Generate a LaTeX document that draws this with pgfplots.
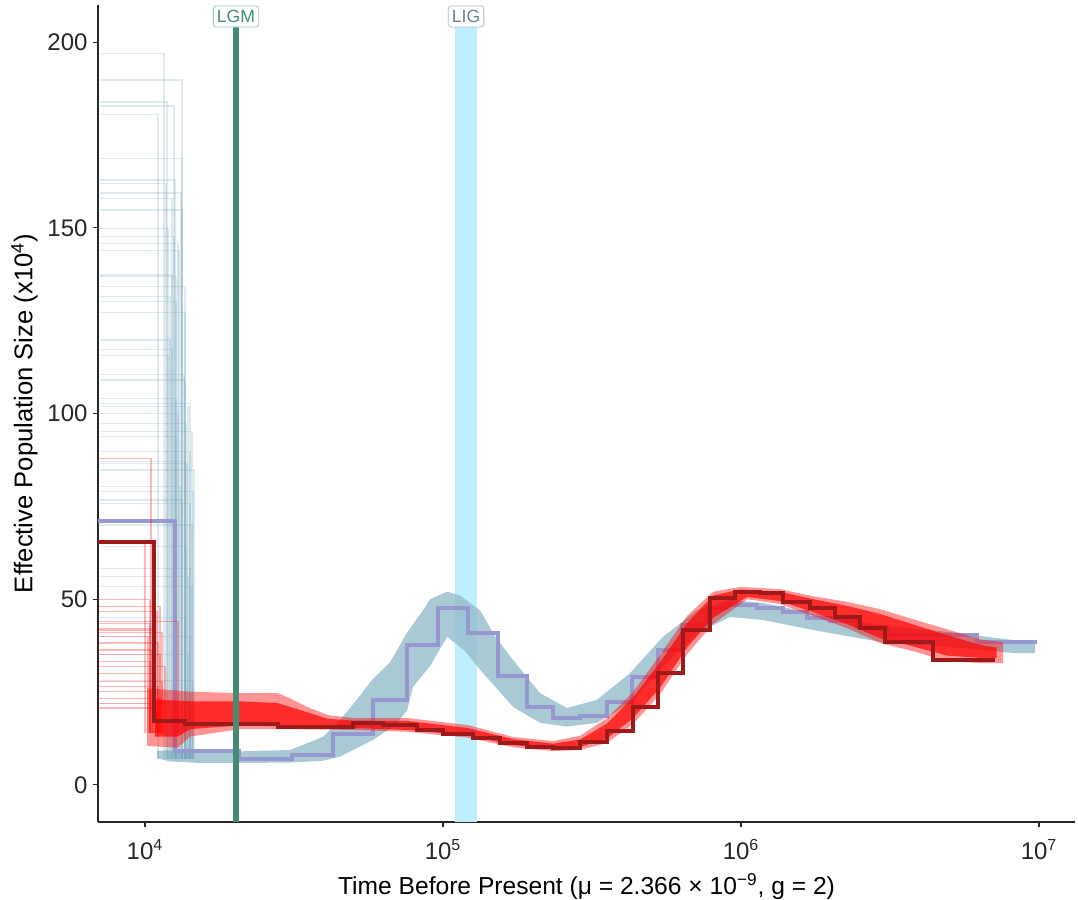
\documentclass[border=0pt]{standalone}
\usepackage{fontspec}
\setmainfont{Liberation Sans}
\usepackage{pgfplots}
\pgfplotsset{compat=1.18}
\usetikzlibrary{calc}
\definecolor{bootblue}{RGB}{110,160,182}
\definecolor{bandblue}{RGB}{150,190,203}
\definecolor{lav}{RGB}{152,152,208}
\definecolor{mainred}{RGB}{158,26,26}
\definecolor{lgmcol}{RGB}{69,139,116}
\definecolor{lgmbord}{RGB}{160,200,185}
\definecolor{ligcol}{RGB}{191,239,255}
\definecolor{ligtext}{RGB}{105,130,145}
\definecolor{ligbord}{RGB}{175,190,198}
\newcommand{\bl}[2]{\addplot[bootblue, opacity=0.22, line width=0.6pt] coordinates {(6955,#1) (#2,#1) (#2,7)};}
\newcommand{\rl}[2]{\addplot[red, opacity=0.28, line width=0.6pt] coordinates {(6955,#1) (#2,#1) (#2,14)};}
\begin{document}
\begin{tikzpicture}
\begin{axis}[
  name=ax, scale only axis, width=488.5pt, height=408.5pt,
  xmode=log, xmin=6955, xmax=1.32e7, ymin=-10, ymax=210,
  axis x line*=bottom, axis y line*=left, axis line style={-, line width=0.7pt, black!85},
  clip=false,
  xtick={1e4,1e5,1e6,1e7},
  xticklabels={10\textsuperscript{4},10\textsuperscript{5},10\textsuperscript{6},10\textsuperscript{7}},
  xminorticks=false,
  ytick={0,50,100,150,200},
  tick align=outside, major tick length=2.75pt,
  tick style={black!85, line width=0.6pt},
  /pgf/number format/assume math mode=true,
  tick label style={font=\fontsize{12}{14}\selectfont, black!85},
  xticklabel style={yshift=-2.5pt},
  yticklabel style={xshift=1pt},
  xlabel style={font=\fontsize{12.3}{14}\selectfont, black},
  ylabel style={font=\fontsize{12.8}{14}\selectfont, black, yshift=-2pt},
  xlabel={Time Before Present (μ = 2.366 × 10\textsuperscript{−9}, g = 2)},
  ylabel={Effective Population Size (x10\textsuperscript{4})},
]
% LIG band
\addplot[fill=ligcol, draw=none] coordinates {(109700,-10) (129800,-10) (129800,204.2) (109700,204.2)} -- cycle;
% blue bootstrap band
\addplot[fill=bandblue, draw=none, fill opacity=0.82] coordinates {
(10970,9.2) (15300,9.5) (20360,9) (30660,9.4) (39560,12.9) (45110,17.5) (51460,23) (57770,28.3) (66390,33) (75730,41) (85690,47) (90460,50) (103140,52) (114030,51) (133100,47) (149480,40) (171790,33.6) (211600,24.7) (260700,20.7) (328700,22.9) (424200,30.1) (547400,39.9) (711700,47) (918500,49.8) (1.1854e6,49) (1.7443e6,46.2) (2.927e6,43) (4.9124e6,41.2) (8.18e6,39) (9.6955e6,38.5)
(9.6955e6,35.5) (8.18e6,35.5) (4.9124e6,37.2) (2.927e6,38.5) (1.7443e6,41.7) (1.1854e6,44.4) (918500,45.2) (711700,40.9) (547400,31.8) (424200,22) (328700,16.7) (260700,15.7) (211600,16.7) (171790,21) (133100,31) (118530,36) (103140,39.9) (90460,32) (79330,26.4) (75730,20) (69010,16) (58220,12.1) (45110,7.6) (39560,6.5) (30660,6.0) (20840,5.9) (15300,5.9) (12130,6.3) (10970,7.2)
} -- cycle;
% blue bootstrap early lines
\bl{197}{11580}\bl{189.8}{13311}\bl{183.9}{11853}\bl{182.8}{12511}\bl{180.6}{11055}
\bl{168.7}{13311}\bl{162.9}{12608}\bl{162}{11761}\bl{159.4}{13208}\bl{157.9}{12319}
\bl{154.8}{13311}\bl{149.9}{11944}\bl{147.6}{12511}\bl{145.8}{12904}\bl{143.8}{13005}
\bl{136.8}{12707}\bl{137.3}{12319}\bl{134.1}{13623}\bl{131.4}{12130}\bl{130.1}{12707}
\bl{127.1}{13623}\bl{119.8}{12130}\bl{117.3}{12319}\bl{115.7}{11944}\bl{110.4}{13518}
\bl{109}{13623}\bl{104.1}{12707}\bl{102.7}{14160}\bl{101.8}{13943}\bl{100.1}{12904}
\bl{97.4}{13729}\bl{95.1}{14381}\bl{93.8}{12707}\bl{89.7}{14160}\bl{87}{13623}
\bl{86.6}{13836}\bl{84.8}{14605}\bl{80.3}{13106}\bl{78.9}{14493}\bl{76.7}{13311}
\bl{75.8}{14160}\bl{70}{14381}\bl{64.1}{13729}\bl{58.3}{14160}\bl{56.1}{13943}
\bl{53.4}{14381}\bl{45}{13623}\bl{40}{14160}\bl{35}{13943}\bl{28}{14493}\bl{22}{14160}
% lavender main
\addplot[lav, line width=2pt, const plot] coordinates {
(6955,71.1) (12608,9.0) (20680,7.0) (31140,8.1) (42740,13.7) (58220,22.9) (75730,37.7) (96200,47.6) (121300,40.8) (152900,29.2) (191400,21.1) (233900,17.9) (288200,18.6) (355100,22.4) (430800,29.0) (526700,36.3) (633900,43.0) (775000,47.6) (897500,48.5) (1.131e6,47.6) (1.383e6,46.6) (1.665e6,44.9) (1.990e6,44.0) (2.450e6,42.5) (3.090e6,40.4) (6.195e6,38.6) (9.85e6,38.6)};
% red bootstrap band (outer, lighter)
\addplot[fill=red, draw=none, fill opacity=0.42] coordinates {
(10155,26) (14160,25.1) (20840,24.7) (27900,24.7) (30660,23.3) (35000,21) (41000,18.8) (49890,18) (75730,18) (121300,16.1) (171790,12.9) (233950,11.8) (288200,13.2) (355100,18) (434200,25) (534900,35) (658800,45.5) (805400,52) (992300,53.3) (1.3516e6,52.7) (1.7443e6,50.8) (2.268e6,49.3) (2.927e6,47.3) (3.7775e6,44.6) (4.9124e6,41.9) (6.3396e6,39.2) (7.572e6,38.4)
(7.572e6,32.8) (6.3396e6,32.8) (4.9124e6,33.3) (3.7775e6,36) (2.927e6,38.2) (2.268e6,42.2) (1.7443e6,45.5) (1.3516e6,48.7) (1.0475e6,50) (805400,43.3) (658800,35.2) (534900,24.4) (434200,16.4) (355100,11.3) (288200,9.4) (233950,9.1) (171790,10.1) (121300,12.7) (75730,14.3) (49890,14.8) (30660,15) (20840,15) (14160,13) (12900,10) (10155,10.5)
} -- cycle;
% red bootstrap band (inner, dense)
\addplot[fill=red, draw=none, fill opacity=0.7] coordinates {
(10804,23) (14160,22.5) (20840,22.5) (27900,22) (30660,21) (41000,17.8) (49890,17.3) (75730,17.2) (121300,15.3) (171790,12.3) (233950,11.1) (288200,12.2) (355100,16.5) (434200,23.5) (534900,33) (658800,43.5) (805400,51) (992300,52.6) (1.3516e6,52) (1.7443e6,50) (2.268e6,48.2) (2.927e6,46) (3.7775e6,43.2) (4.9124e6,40.3) (6.3396e6,37.7) (7.2e6,37)
(7.2e6,34.2) (6.3396e6,34.2) (4.9124e6,34.8) (3.7775e6,37.3) (2.927e6,39.5) (2.268e6,43.3) (1.7443e6,46.5) (1.3516e6,49.5) (1.0475e6,50.6) (805400,45) (658800,37) (534900,26.2) (434200,18) (355100,12.5) (288200,10.2) (233950,9.7) (171790,10.7) (121300,13.3) (75730,14.8) (49890,15.3) (30660,15.7) (20840,16) (14160,15) (12900,13) (10804,13)
} -- cycle;
% red bootstrap early lines
\rl{87.9}{10474}\rl{65}{10000}\rl{50}{10394}\rl{48}{11230}\rl{46.6}{10970}\rl{44}{12904}
\rl{43.5}{10394}\rl{42.2}{10637}\rl{41.7}{10804}\rl{41}{11404}\rl{40}{10234}\rl{38.2}{11055}
\rl{36.3}{10556}\rl{35}{11230}\rl{33.2}{10394}\rl{31.8}{11670}\rl{30}{10804}\rl{27.8}{11404}
\rl{26.5}{11055}\rl{25.1}{10394}\rl{23.3}{11230}\rl{22}{10637}\rl{20.7}{10970}
% red main
\addplot[mainred, line width=2pt, const plot] coordinates {
(6955,65.4) (10720,17.2) (13623,16.4) (28000,15.7) (49890,16.6) (62910,16.1) (81800,14.8) (100000,13.8) (126100,12.7) (155400,11.3) (191400,10.3) (233900,10.0) (288200,11.6) (355100,14.4) (434200,21.1) (526700,30.1) (638800,41.7) (787000,50.2) (954700,52.0) (1.158e6,51.6) (1.383e6,49.3) (1.704e6,47.6) (2.067e6,45.3) (2.507e6,42.2) (3.042e6,38.5) (4.410e6,33.6) (7.118e6,33.6)};
% LGM line
\addplot[lgmcol, line width=3pt] coordinates {(20200,-10) (20200,204.2)};
% labels
\node[draw=lgmbord, fill=white, rounded corners=1.5pt, text=lgmcol, font=\fontsize{8.8}{9}\selectfont, inner xsep=1.8pt, inner ysep=2.1pt, text height=6.3pt, text depth=0pt] at (axis cs:20200,206.9) {LGM};
\node[draw=ligbord, fill=white, rounded corners=1.5pt, text=ligtext, font=\fontsize{8.8}{9}\selectfont, inner xsep=1.8pt, inner ysep=2.1pt, text height=6.3pt, text depth=0pt] at (axis cs:119500,206.9) {LIG};
\end{axis}
\pgfresetboundingbox
\path ($(ax.south west)+(-49pt,-39pt)$) rectangle ($(ax.north east)+(1.5pt,2.5pt)$);
\end{tikzpicture}
\end{document}
